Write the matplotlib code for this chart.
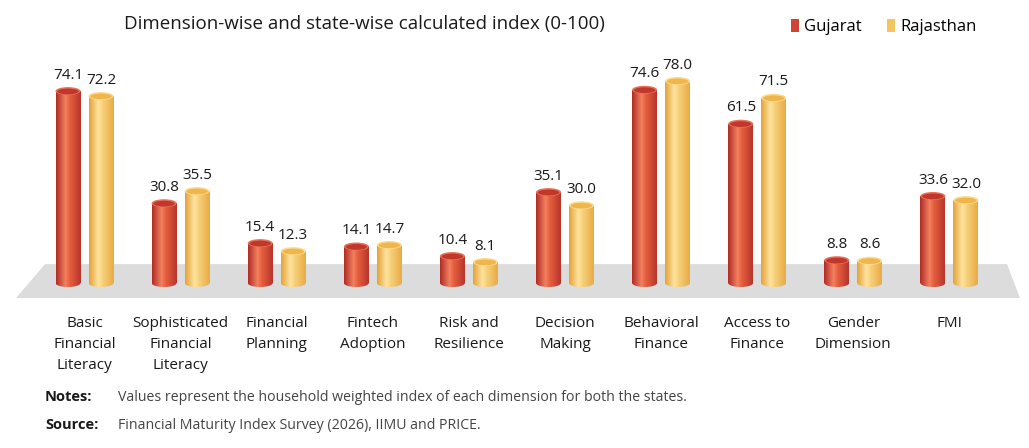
import numpy as np
import matplotlib
matplotlib.use("Agg")
import matplotlib.pyplot as plt
from matplotlib.patches import Rectangle, Ellipse, Polygon, Patch
from matplotlib.colors import LinearSegmentedColormap

categories = [
    "Basic\nFinancial\nLiteracy",
    "Sophisticated\nFinancial\nLiteracy",
    "Financial\nPlanning",
    "Fintech\nAdoption",
    "Risk and\nResilience",
    "Decision\nMaking",
    "Behavioral\nFinance",
    "Access to\nFinance",
    "Gender\nDimension",
    "FMI",
]
gujarat = [74.1, 30.8, 15.4, 14.1, 10.4, 35.1, 74.6, 61.5, 8.8, 33.6]
rajasthan = [72.2, 35.5, 12.3, 14.7, 8.1, 30.0, 78.0, 71.5, 8.6, 32.0]
series_names = ["Gujarat", "Rajasthan"]

title = "Dimension-wise and state-wise calculated index (0-100)"
notes = "Values represent the household weighted index of each dimension for both the states."
source = "Financial Maturity Index Survey (2026), IIMU and PRICE."

plt.rcParams["font.family"] = ["Open Sans", "DejaVu Sans"]

# colour ramps for the cylinders (left edge -> highlight -> right edge)
red_cmap = LinearSegmentedColormap.from_list(
    "red", [(0, "#b02c27"), (0.38, "#f3805f"), (0.55, "#e5603f"), (1, "#b8352b")])
yel_cmap = LinearSegmentedColormap.from_list(
    "yel", [(0, "#e6a238"), (0.38, "#fde4a0"), (0.55, "#f8d07a"), (1, "#e8ab45")])
top_colors = [("#c0382c", "#ea7258"), ("#efb64c", "#fcdc92")]
legend_colors = ["#cf4433", "#f4c45e"]

W, H = 1029, 448
fig = plt.figure(figsize=(W / 100, H / 100), dpi=100)
ax = fig.add_axes([0, 0, 1, 1])
ax.set_axis_off()

# scale: group spacing 96.1 px, 2.59 px per index point, baseline at 283 px
px_x, px_y, x0_px, base_px = 96.1, 2.59, 84.5, 283
xlim = (-x0_px / px_x, (W - x0_px) / px_x)
ylim = ((base_px - H) / px_y, base_px / px_y)

bar_w = 25 / px_x
offset = 16.5 / px_x
ell_h = 8 / px_y
grad = np.linspace(0, 1, 64).reshape(1, -1)

# grey floor
floor = Polygon([(-0.713, -5.8), (9.735, -5.8), (9.60, 7.3), (-0.411, 7.3)],
                closed=True, facecolor="#dcdcdc", edgecolor="none", zorder=1)
ax.add_patch(floor)

x = np.arange(len(categories))
for s, (vals, cmap) in enumerate([(gujarat, red_cmap), (rajasthan, yel_cmap)]):
    xs = x + (-offset if s == 0 else offset)
    bars = ax.bar(xs, vals, width=bar_w, color="none", edgecolor="none", zorder=2)
    for b, v in zip(bars, vals):
        bx = b.get_x()
        cx = bx + bar_w / 2
        # body
        body = Rectangle((bx, 0), bar_w, v, transform=ax.transData)
        im = ax.imshow(grad, extent=[bx, bx + bar_w, -ell_h, v], aspect="auto",
                       cmap=cmap, zorder=3, interpolation="bilinear")
        im.set_clip_path(body)
        # rounded bottom
        bot = Ellipse((cx, 0), bar_w, ell_h, transform=ax.transData)
        im2 = ax.imshow(grad, extent=[bx, bx + bar_w, -ell_h, v], aspect="auto",
                        cmap=cmap, zorder=3, interpolation="bilinear")
        im2.set_clip_path(bot)
        # top cap
        ax.add_patch(Ellipse((cx, v), bar_w, ell_h, facecolor=top_colors[s][1],
                             edgecolor="none", zorder=4))
        ax.add_patch(Ellipse((cx, v - 0.15), bar_w * 0.86, ell_h * 0.72,
                             facecolor=top_colors[s][0], edgecolor="none", zorder=5))
        ax.annotate(f"{v:.1f}", (cx, v), xytext=(0, 6), textcoords="offset points",
                    ha="center", va="bottom", fontsize=11, color="#1a1a1a", zorder=6)

for i, lab in enumerate(categories):
    ax.text(i, (base_px - 316) / px_y, lab, ha="center", va="top", fontsize=11,
            color="#1a1a1a", linespacing=1.55)

ax.set_xlim(*xlim)
ax.set_ylim(*ylim)

fig.text(364 / W, 1 - 24 / H, title, ha="center", va="center", fontsize=13.5,
         color="#1a1a1a")

handles = [Patch(facecolor=c, edgecolor="none") for c in legend_colors]
fig.legend(handles, series_names, loc="center left", bbox_to_anchor=(776 / W, 1 - 27 / H),
           ncol=2, frameon=False, fontsize=12, handlelength=0.5, handleheight=0.85,
           handletextpad=0.3, columnspacing=1.5)

fig.text(45 / W, 1 - 397 / H, "Notes:", ha="left", va="center", fontsize=10.5,
         fontweight="bold", color="#1a1a1a")
fig.text(118 / W, 1 - 397 / H, notes, ha="left", va="center", fontsize=10.2,
         color="#444444")
fig.text(45 / W, 1 - 425 / H, "Source:", ha="left", va="center", fontsize=10.5,
         fontweight="bold", color="#1a1a1a")
fig.text(118 / W, 1 - 425 / H, source, ha="left", va="center", fontsize=10.2,
         color="#444444")

fig.savefig("out.png", dpi=100, facecolor="white")
